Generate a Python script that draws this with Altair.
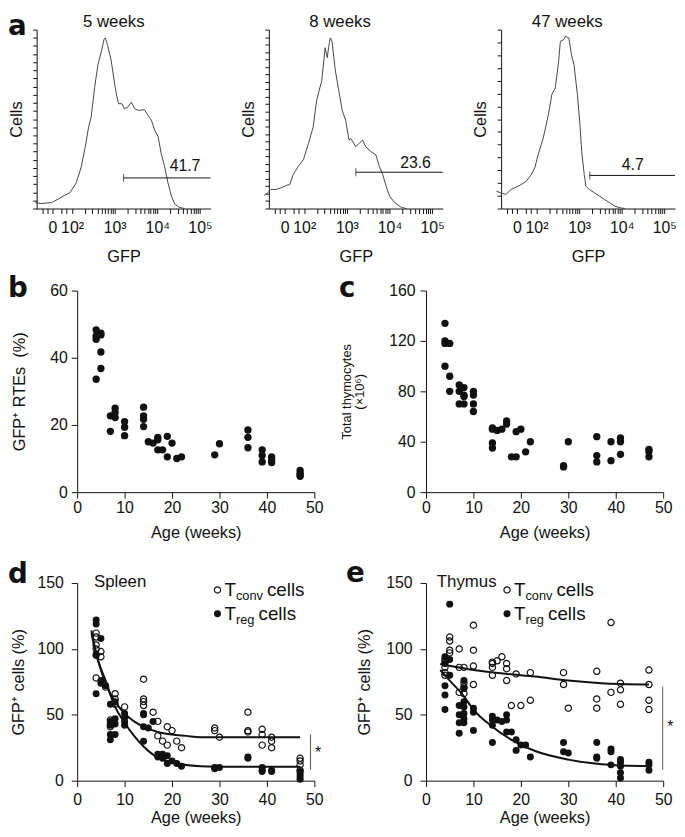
import math
import altair as alt
import pandas as pd

FONT = "Liberation Sans"
LETTER_FONT = "DejaVu Sans"
INK = "#111111"

# ---------------- panel a : GFP histograms ----------------
hist_titles = ["5 weeks", "8 weeks", "47 weeks"]
h5_x = [1.14, 1.28, 1.52, 1.67, 1.83, 1.95, 2.10, 2.22, 2.31, 2.39, 2.45, 2.53, 2.61, 2.69, 2.75,
        2.78, 2.83, 2.92, 3.00, 3.04, 3.09, 3.17, 3.23, 3.31, 3.39, 3.47, 3.55, 3.70, 3.78, 3.86,
        3.94, 4.02, 4.09, 4.17, 4.25, 4.33, 4.41, 4.52, 4.64]
h5_y = [3.3, 2.8, 3.3, 5.2, 7.4, 8.8, 14.4, 23.6, 34.6, 45.7, 51.2, 67.8, 80.7, 88.0, 94.5,
        95.4, 91.7, 82.5, 69.6, 64.1, 58.6, 58.6, 55.8, 56.7, 59.5, 55.8, 54.9, 55.2, 52.1, 49.4,
        43.8, 40.1, 30.9, 23.6, 14.4, 7.0, 2.4, 0.6, 0.0]
h8_x = [1.06, 1.14, 1.22, 1.34, 1.46, 1.58, 1.66, 1.74, 1.86, 1.98, 2.10, 2.21, 2.29, 2.41, 2.49,
        2.54, 2.57, 2.61, 2.65, 2.73, 2.81, 2.89, 2.97, 3.05, 3.09, 3.21, 3.29, 3.37, 3.44, 3.56,
        3.68, 3.76, 3.84, 3.92, 4.00, 4.12, 4.28, 4.40]
h8_y = [7.4, 8.8, 10.7, 10.7, 11.6, 12.9, 13.4, 19.0, 23.6, 27.3, 36.5, 45.7, 60.4, 71.5, 89.9,
        84.3, 89.9, 95.4, 93.6, 77.0, 65.9, 54.9, 49.4, 38.3, 39.2, 34.6, 36.5, 38.3, 34.6, 31.9,
        30.0, 23.6, 19.0, 12.5, 7.0, 3.3, 0.6, 0.0]
h47_x = [1.06, 1.16, 1.28, 1.40, 1.52, 1.64, 1.76, 1.88, 1.96, 2.04, 2.16, 2.28, 2.36, 2.44, 2.52,
         2.56, 2.64, 2.68, 2.76, 2.82, 2.88, 2.96, 3.02, 3.06, 3.12, 3.16, 3.24, 3.36, 3.48, 3.60,
         3.72, 3.84, 3.96, 4.08]
h47_y = [9.7, 8.8, 7.8, 10.6, 11.9, 13.4, 15.3, 19.0, 22.7, 30.2, 39.5, 52.5, 63.7, 67.4, 82.3,
         93.5, 94.4, 96.3, 95.3, 86.0, 80.4, 63.7, 46.9, 32.0, 19.0, 12.5, 10.6, 8.8, 6.9, 5.0,
         3.2, 1.3, 0.4, 0.0]
gate_pct = ["41.7", "23.6", "4.7"]
gate_start = [3.21, 3.21, 3.25]
gate_end = [5.25, 5.25, 5.25]
gate_level = [17.1, 20.3, 18.5]
gate_label_x = [4.65, 4.61, 4.26]
gate_label_y = [21.0, 22.6, 21.7]
hist_tick_intervals = [22, 24, 14]
gfp_major_pos = [1.54, 2, 3, 4, 5]
gfp_major_text = ["0", "10²", "10³", "10⁴", "10⁵"]
gfp_minor_low = [1.32, 1.43, 1.76, 1.87]

# ---------------- panel b : GFP+ RTEs ----------------
b_week = [4, 4, 4, 4, 5, 5, 5, 5, 7, 7, 8, 8, 8, 10, 10, 10, 14, 14, 14, 14, 15, 16, 17, 17, 17,
          18, 19, 19, 20, 21, 22, 29, 30, 36, 36, 36, 39, 39, 39, 41, 41, 41, 47, 47, 47, 47]
b_pct = [48.3, 46.5, 45.5, 33.6, 47.3, 46.8, 41.7, 36.8, 22.7, 18.1, 25.0, 23.7, 22.2, 21.0, 19.3,
         16.8, 25.3, 22.7, 21.7, 19.5, 15.0, 14.6, 16.3, 15.6, 12.6, 12.6, 16.6, 10.5, 14.6, 10.0,
         10.5, 11.1, 14.4, 18.5, 16.3, 13.2, 12.6, 10.9, 9.0, 10.5, 9.6, 8.8, 6.5, 5.6, 4.7, 5.2]

# ---------------- panel c : total thymocytes ----------------
c_week = [4, 4, 4, 4, 5, 5, 5, 7, 7, 7, 8, 8, 8, 8, 10, 10, 10, 10, 14, 14, 14, 14, 15, 16, 17, 17,
          18, 19, 19, 20, 21, 22, 29, 29, 30, 36, 36, 36, 39, 39, 41, 41, 41, 47, 47, 47]
c_count = [134, 120, 118, 100, 118, 92, 80, 85, 80, 70, 83, 77, 76, 70, 80, 77, 70, 64, 51, 50, 39,
           35, 49, 50, 56.5, 54, 28, 48, 28, 50, 32, 40, 21, 20, 40, 44, 29, 24, 40, 25, 43, 40,
           30, 34, 32, 28]

# ---------------- panel d : spleen ----------------
d_conv_week = [4, 4, 4, 4, 4, 5, 5, 6, 7, 7, 7, 8, 8, 8, 10, 14, 14, 14, 14, 16, 17, 17, 18, 19, 19,
               20, 21, 22, 29, 29, 30, 36, 36, 36, 39, 39, 39, 41, 41, 41, 47, 47, 47, 47]
d_conv_pct = [112, 109, 103, 100, 78, 98, 94, 71, 46, 43, 41, 66, 62, 58, 56, 77, 62, 60, 57, 52, 45,
              34, 30, 41, 27, 38, 30, 25, 40, 38, 33, 52, 38, 37, 39, 35, 27, 33, 30, 25, 17, 15,
              12, 8]
d_reg_week = [4, 4, 4, 4, 4, 5, 5, 5, 6, 7, 7, 7, 7, 7, 8, 8, 8, 8, 10, 10, 10, 10, 14, 14, 14, 14,
              15, 16, 17, 17, 18, 18, 19, 19, 20, 21, 22, 29, 29, 30, 36, 36, 39, 39, 39, 41, 41,
              47, 47, 47, 47]
d_reg_pct = [122, 119, 96, 95, 66, 108, 76, 74, 72, 58, 45, 42, 35, 31, 60, 47, 43, 35, 51, 48, 45,
             42, 51, 50, 41, 30, 40, 45, 20, 18, 20, 17, 19, 13, 15, 13, 11, 10, 9, 10, 18, 17, 10,
             8, 7, 8, 7, 7, 5, 3, 1]
d_conv_fit_week = [3, 4, 5, 6, 7, 8, 10, 12, 14, 17, 20, 23, 26, 33, 47]
d_conv_fit_pct = [114, 97, 84, 74, 66, 60, 51, 45, 41, 37, 35, 34, 33, 33, 33]
d_reg_fit_week = [3, 4, 5, 6, 7, 8, 10, 12, 14, 17, 20, 26, 33, 47]
d_reg_fit_pct = [112, 96, 85, 76, 65, 56, 44, 34, 26, 17.5, 14, 11, 10.5, 10.5]

# ---------------- panel e : thymus ----------------
e_conv_week = [4, 4, 4, 4, 4, 5, 5, 5, 5, 7, 7, 7, 8, 8, 8, 8, 10, 10, 10, 10, 14, 14, 14, 14, 15,
               16, 17, 17, 17, 18, 19, 20, 22, 22, 29, 29, 30, 36, 36, 36, 39, 39, 41, 41, 41, 47,
               47, 47, 47]
e_conv_pct = [92, 90, 86, 82, 80, 109, 106, 99, 97, 100, 86, 67, 86, 74, 71, 66, 118, 99, 87, 73, 90,
              89, 86, 80, 91, 94, 89, 85, 76, 57, 81, 57, 82, 61, 82, 73, 55, 83, 62, 55, 120, 67,
              74, 69, 58, 84, 73, 61, 54]
e_reg_week = [4, 4, 4, 4, 4, 5, 5, 5, 7, 7, 7, 7, 8, 8, 8, 8, 8, 8, 8, 10, 10, 10, 14, 14, 14, 14,
              15, 16, 17, 17, 17, 18, 19, 19, 20, 21, 22, 29, 29, 30, 36, 36, 36, 39, 39, 39, 41,
              41, 41, 41, 41, 47, 47, 47]
e_reg_pct = [94, 89, 72, 65, 54, 134, 92, 80, 57, 50, 44, 36, 76, 70, 60, 56, 51, 47, 44, 55, 52, 38,
             49, 46, 42, 29, 46, 45, 50, 46, 37, 37, 31, 23, 27, 27, 18, 29, 22, 21, 29, 18, 17, 24,
             22, 12, 16, 14, 11, 6, 2, 14, 12, 8]
e_conv_fit_week = [3, 10, 17, 23, 30, 37, 47]
e_conv_fit_pct = [88.5, 84, 81, 79, 76, 74, 73]
e_reg_fit_week = [3, 5, 8, 10, 14, 19, 23, 30, 37, 47]
e_reg_fit_pct = [84, 76, 64, 54, 41, 29, 22.5, 16, 12.5, 11]

tissues = ["Spleen", "Thymus"]
legend_main = ["T", "T"]
legend_sub = ["conv", "reg"]
legend_tail = ["cells", "cells"]
sig_x = [49.2, 49.9]
sig_lo = [8.25, 8.25]
sig_hi = [35.0, 71.25]
star_x = [50.8, 51.5]
star_y = [23.75, 43.75]
letters = ["a", "b", "c", "d", "e"]

TICK_FS = 16
TITLE_FS = 16.5
NOTE_FS = 17
LEG_FS = 19
SUB_FS = 13


def one(**kw):
    return pd.DataFrame({k: [v] for k, v in kw.items()})


def note(text, x, y, size=NOTE_FS, weight="normal", align="left", baseline="alphabetic", font=FONT):
    return alt.Chart(one(t=text)).mark_text(
        font=font, fontSize=size, fontWeight=weight, align=align, baseline=baseline, color=INK
    ).encode(text="t:N", x=alt.value(x), y=alt.value(y))


def letter_mark(text, x, y):
    return note(text, x, y, size=28, weight="bold", font=LETTER_FONT)


# ---- histogram panels ----
GFP_DOMAIN = [1.17, 5.25]
gfp_minor = gfp_minor_low + [k + math.log10(m) for k in (2, 3, 4) for m in range(2, 10)]
gfp_ticks = sorted(gfp_major_pos + gfp_minor)
gfp_expr = " : ".join(f"datum.value == {p} ? '{t}'" for p, t in zip(gfp_major_pos, gfp_major_text)) + " : ''"
hist_title_x = [78, 72, 67]


def hist_panel(i, xs, ys, letter=None):
    xsc = alt.Scale(domain=GFP_DOMAIN, nice=False, zero=False)
    ysc = alt.Scale(domain=[0, 100], nice=False)
    n = hist_tick_intervals[i]
    xax = alt.Axis(values=gfp_ticks, labelExpr=gfp_expr, title="GFP", tickSize=5, labelPadding=6,
                   titlePadding=14, labelOverlap=False, labelFlush=False, grid=False)
    yax = alt.Axis(values=[j * 100 / n for j in range(n + 1)], labels=False, tickSize=4,
                   title="Cells", titlePadding=8, grid=False)
    X = alt.X("gfp:Q", scale=xsc, axis=xax)
    Y = alt.Y("cells:Q", scale=ysc, axis=yax)
    line = alt.Chart(pd.DataFrame({"gfp": xs, "cells": ys})).mark_line(
        color="#454545", strokeWidth=1).encode(x=X, y=Y)
    gate_df = one(gfp=gate_start[i], gfp2=gate_end[i], cells=gate_level[i])
    gate = alt.Chart(gate_df).mark_rule(color=INK, strokeWidth=1).encode(x=X, x2="gfp2:Q", y=Y)
    gtick = alt.Chart(gate_df).mark_tick(orient="vertical", size=8, thickness=1, color=INK).encode(x=X, y=Y)
    glabel = alt.Chart(one(gfp=gate_label_x[i], cells=gate_label_y[i], t=gate_pct[i])).mark_text(
        font=FONT, fontSize=16, align="center", baseline="alphabetic", color=INK
    ).encode(x=X, y=Y, text="t:N")
    layers = [line, gate, gtick, glabel,
              note(hist_titles[i], hist_title_x[i], -3, align="center")]
    if letter:
        layers.append(letter_mark(letter, -29, 5))
    return alt.layer(*layers).properties(width=176, height=181)


# ---- scatter panels ----
def age_axis(lp, tp):
    return alt.Axis(values=[0, 10, 20, 30, 40, 50], title="Age (weeks)", tickSize=6, labelPadding=lp,
                    titlePadding=tp, labelFlush=False, labelOverlap=False, grid=False)


def simple_panel(week, val, ymax, yvals, ytitle, ylp, ytp, letter, lx, ly, extra_axis=None):
    xsc = alt.Scale(domain=[0, 50], nice=False)
    ysc = alt.Scale(domain=[0, ymax], nice=False)
    yax_kw = dict(values=yvals, title=ytitle, tickSize=6, labelPadding=ylp, titlePadding=ytp,
                  labelFlush=False, grid=False)
    if extra_axis:
        yax_kw.update(extra_axis)
    X = alt.X("age:Q", scale=xsc, axis=age_axis(2, 9))
    Y = alt.Y("val:Q", scale=ysc, axis=alt.Axis(**yax_kw))
    pts = alt.Chart(pd.DataFrame({"age": week, "val": val})).mark_circle(
        size=55, color=INK, opacity=1).encode(x=X, y=Y)
    return alt.layer(pts, letter_mark(letter, lx, ly)).properties(width=240, height=204)


def tcell_panel(k, cw, cv, rw, rv, cfw, cfv, rfw, rfv, ytp, letter, lx, ly, tissue_x, leg_x):
    xsc = alt.Scale(domain=[0, 50], nice=False)
    ysc = alt.Scale(domain=[0, 150], nice=False)
    X = alt.X("age:Q", scale=xsc, axis=age_axis(5, 2))
    Y = alt.Y("val:Q", scale=ysc, axis=alt.Axis(values=[0, 50, 100, 150], title="GFP⁺ cells (%)",
                                                 tickSize=6, labelPadding=8, titlePadding=ytp,
                                                 labelFlush=False, grid=False))
    reg = alt.Chart(pd.DataFrame({"age": rw, "val": rv})).mark_circle(
        size=50, color=INK, opacity=1).encode(x=X, y=Y)
    conv = alt.Chart(pd.DataFrame({"age": cw, "val": cv})).mark_point(
        shape="circle", filled=False, size=40, strokeWidth=1.2, color=INK, opacity=1).encode(x=X, y=Y)
    fit_c = alt.Chart(pd.DataFrame({"age": cfw, "val": cfv})).mark_line(
        interpolate="monotone", color=INK, strokeWidth=2).encode(x=X, y=Y)
    fit_r = alt.Chart(pd.DataFrame({"age": rfw, "val": rfv})).mark_line(
        interpolate="monotone", color=INK, strokeWidth=2).encode(x=X, y=Y)
    sig = alt.Chart(one(age=sig_x[k], val=sig_lo[k], val2=sig_hi[k])).mark_rule(
        color="#555555", strokeWidth=1).encode(x=X, y=Y, y2="val2:Q")
    star = alt.Chart(one(age=star_x[k], val=star_y[k], t="*")).mark_text(
        font=FONT, fontSize=16, align="center", baseline="middle", dy=4, color=INK
    ).encode(x=X, y=Y, text="t:N")
    leg_open = alt.Chart(one(v=0)).mark_point(
        shape="circle", filled=False, size=40, strokeWidth=1.2, color=INK, opacity=1
    ).encode(x=alt.value(leg_x), y=alt.value(7))
    leg_fill = alt.Chart(one(v=0)).mark_circle(size=50, color=INK, opacity=1).encode(
        x=alt.value(leg_x), y=alt.value(31))
    layers = [reg, conv, fit_c, fit_r, sig, star, leg_open, leg_fill,
              note(tissues[k], tissue_x, 4),
              note(legend_main[0], leg_x + 7, 13, size=LEG_FS),
              note(legend_sub[0], leg_x + 18.6, 17, size=SUB_FS),
              note(legend_tail[0], leg_x + 50, 13, size=LEG_FS),
              note(legend_main[1], leg_x + 7, 37, size=LEG_FS),
              note(legend_sub[1], leg_x + 18.6, 41, size=SUB_FS),
              note(legend_tail[1], leg_x + 41.5, 37, size=LEG_FS),
              letter_mark(letter, lx, ly)]
    return alt.layer(*layers).properties(width=240, height=200)


def spacer():
    return alt.Chart(one(t="")).mark_text().encode(text="t:N").properties(width=1, height=1)


a1 = hist_panel(0, h5_x, h5_y, letter=letters[0])
a2 = hist_panel(1, h8_x, h8_y)
a3 = hist_panel(2, h47_x, h47_y)

pb = simple_panel(b_week, b_pct, 60, [0, 20, 40, 60], "GFP⁺ RTEs\u00a0 (%)", 4, 22, letters[1], -70, 7)
pc = simple_panel(c_week, c_count, 160, [0, 40, 80, 120, 160], ["Total thymocytes", "(×10⁶)"], 5, 23,
                  letters[2], -88, 7, extra_axis=dict(titleFontSize=13, titleLineHeight=13))

pd_ = tcell_panel(0, d_conv_week, d_conv_pct, d_reg_week, d_reg_pct, d_conv_fit_week, d_conv_fit_pct,
                  d_reg_fit_week, d_reg_fit_pct, 11, letters[3], -70, 0, 17, 142)
pe = tcell_panel(1, e_conv_week, e_conv_pct, e_reg_week, e_reg_pct, e_conv_fit_week, e_conv_fit_pct,
                 e_reg_fit_week, e_reg_fit_pct, 13.5, letters[4], -81, -1, 11, 82)

row1 = alt.hconcat(a1, a2, a3, spacing=59, bounds="flush")
row2 = alt.hconcat(spacer(), alt.hconcat(pb, pc, spacing=113, bounds="flush"), spacing=40, bounds="flush")
row3 = alt.hconcat(spacer(), alt.hconcat(pd_, pe, spacing=113, bounds="flush"), spacing=40, bounds="flush")

chart = alt.vconcat(alt.vconcat(row1, row2, spacing=10), row3, spacing=19, padding=0).configure_axis(
    labelFont=FONT, titleFont=FONT, labelFontSize=TICK_FS, titleFontSize=TITLE_FS, titleFontWeight="normal",
    labelColor=INK, titleColor=INK, domainColor=INK, tickColor=INK, domainWidth=1, tickWidth=1
).configure_view(strokeWidth=0)

chart.save("out.html", embed_options={"renderer": "svg", "actions": False})
